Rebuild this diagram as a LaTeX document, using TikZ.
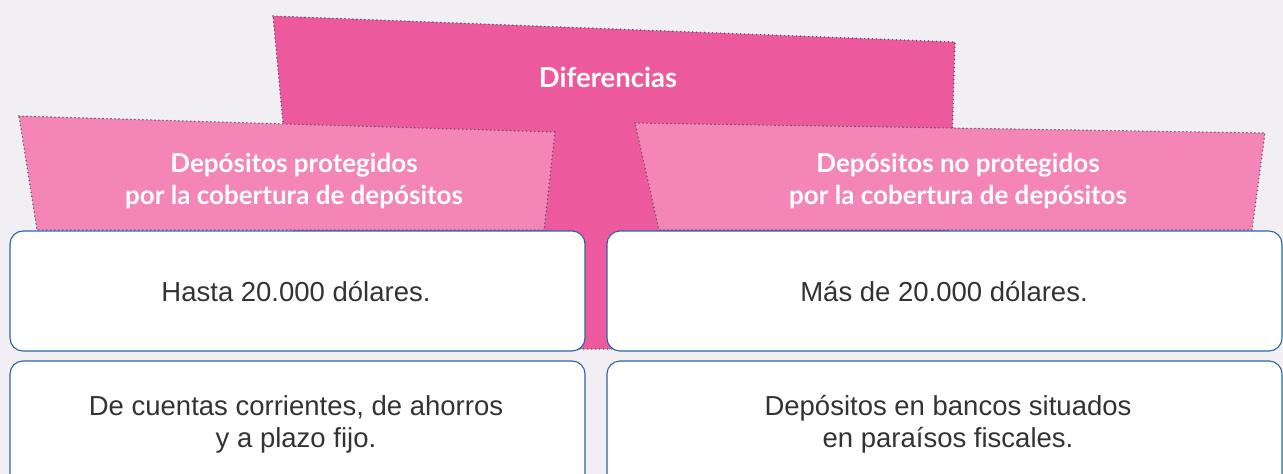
\documentclass[tikz,border=0pt]{standalone}
\usepackage{fontspec}
\setmainfont{Liberation Sans}
\newfontfamily\headfont{Lato}
\usetikzlibrary{positioning}

\definecolor{bgpage}{HTML}{F1EFF4}
\definecolor{magenta}{HTML}{EC599D}
\definecolor{rosa}{HTML}{F386B6}
\definecolor{boxline}{HTML}{2A66A6}
\definecolor{bodytext}{HTML}{333333}
\definecolor{dotline}{HTML}{55555F}

\begin{document}
\begin{tikzpicture}[x=1pt, y=-1pt,
  banner/.style={draw=dotline, line width=1.6pt, line cap=round,
                 dash pattern=on 0pt off 4pt},
  cell/.style={draw=boxline, fill=white, line width=1.1pt, rounded corners=13pt},
  headtext/.style={align=center, text=white, font=\headfont\bfseries\fontsize{26}{32}\selectfont},
  celltext/.style={align=center, text=bodytext, font=\fontsize{27.5}{32}\selectfont},
]

%% ── Background ──────────────────────────────────────────────────────
\clip (0,0) rectangle (1283,474);
\fill[bgpage] (0,0) rectangle (1283,474);

%% ── Main banner ─────────────────────────────────────────────────────
\filldraw[banner, fill=magenta]
    (273,16) -- (955,42) -- (946,349) -- (304,349) -- cycle;
\node[headtext, font=\headfont\bfseries\fontsize{27.5}{32}\selectfont]
    (dif) at (608,77) {Diferencias};

%% ── Side banners ────────────────────────────────────────────────────
\filldraw[banner, fill=rosa]
    (19,116) -- (555,132) -- (544,230) -- (37,230) -- cycle;
\filldraw[banner, fill=rosa]
    (635,123) -- (1265,133) -- (1252,230) -- (659,230) -- cycle;
\node[headtext] (prot)   at (294,181) {Depósitos protegidos\\por la cobertura de depósitos};
\node[headtext] (noprot) at (958,181) {Depósitos no protegidos\\por la cobertura de depósitos};

%% ── Cells ───────────────────────────────────────────────────────────
\draw[cell] (10,231)  rectangle (585,351);
\draw[cell] (607,231) rectangle (1282,351);
\draw[cell] (10,361)  rectangle (585,492);
\draw[cell] (607,361) rectangle (1282,492);

\node[celltext] (hasta) at (296,292) {Hasta 20.000 dólares.};
\node[celltext] (mas)   at (944,292) {Más de 20.000 dólares.};
\node[celltext] (cuent) at (296,424) {De cuentas corrientes, de ahorros\\y a plazo fijo.};
\node[celltext] (paras) at (948,424) {Depósitos en bancos situados\\en paraísos fiscales.};

\end{tikzpicture}
\end{document}
